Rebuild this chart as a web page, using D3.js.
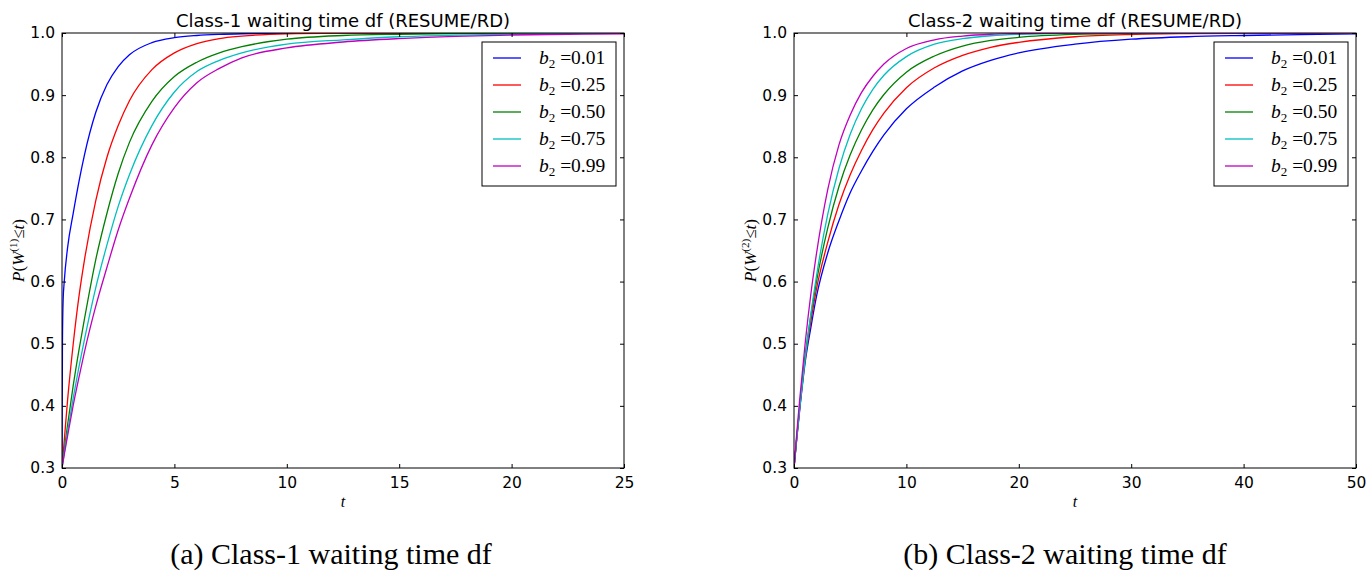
<!DOCTYPE html>
<html lang="en">
<head>
    <meta charset="UTF-8">
    <title>Waiting time df</title>
    <script src="https://d3js.org/d3.v7.min.js"></script>
    <style>
        body { margin: 0; background: #fff; }
        svg { display: block; }
    </style>
</head>
<body>
    <div id="chart"></div>
    <script>
        // legend labels and colours (matplotlib classic b, r, g, c, m)
        const b2Labels = ["0.01", "0.25", "0.50", "0.75", "0.99"];
        const colors = ["#0000ff", "#ff0000", "#008000", "#00bfbf", "#bf00bf"];

        // class-1 panel
        const tLeft = [0, 0.02, 0.05, 0.1, 0.25, 0.5, 0.75, 1, 1.5, 2, 2.5, 3, 4, 5, 6, 7, 8, 10, 12.5, 15, 17.5, 20, 22.5, 25];
        const left001 = [0.300, 0.50, 0.57, 0.60, 0.655, 0.71, 0.76, 0.804, 0.872, 0.917, 0.946, 0.965, 0.9845, 0.9925, 0.996, 0.9978, 0.9988, 0.9996, 0.9999, 1, 1, 1, 1, 1];
        const left025 = [0.300, 0.309, 0.322, 0.344, 0.41, 0.50, 0.575, 0.635, 0.73, 0.80, 0.851, 0.891, 0.941, 0.968, 0.983, 0.991, 0.995, 0.9986, 0.9997, 1, 1, 1, 1, 1];
        const left050 = [0.300, 0.306, 0.315, 0.329, 0.37, 0.433, 0.489, 0.54, 0.635, 0.71, 0.774, 0.824, 0.89, 0.93, 0.953, 0.968, 0.978, 0.99, 0.996, 0.998, 0.999, 0.9996, 1, 1];
        const left075 = [0.300, 0.305, 0.312, 0.324, 0.359, 0.413, 0.462, 0.507, 0.590, 0.659, 0.721, 0.772, 0.851, 0.905, 0.938, 0.956, 0.968, 0.982, 0.989, 0.994, 0.9965, 0.998, 0.9988, 0.9993];
        const left099 = [0.300, 0.3043, 0.3108, 0.3214, 0.352, 0.401, 0.445, 0.487, 0.560, 0.623, 0.683, 0.734, 0.82, 0.88, 0.92, 0.943, 0.960, 0.976, 0.9855, 0.991, 0.9947, 0.9968, 0.998, 0.9988];

        // class-2 panel
        const tRight = [0, 0.25, 0.5, 1, 1.5, 2, 3, 4, 5, 6, 7, 8, 10, 12.5, 15, 17.5, 20, 25, 30, 35, 40, 45, 50];
        const right001 = [0.300, 0.348, 0.392, 0.471, 0.526, 0.576, 0.646, 0.698, 0.743, 0.778, 0.809, 0.836, 0.878, 0.913, 0.939, 0.956, 0.968, 0.982, 0.99, 0.994, 0.996, 0.9975, 0.9985];
        const right025 = [0.300, 0.349, 0.395, 0.476, 0.536, 0.588, 0.663, 0.724, 0.772, 0.811, 0.844, 0.871, 0.912, 0.944, 0.964, 0.977, 0.985, 0.994, 0.9976, 0.999, 0.9996, 0.9998, 1];
        const right050 = [0.300, 0.351, 0.398, 0.482, 0.545, 0.600, 0.686, 0.753, 0.804, 0.844, 0.876, 0.901, 0.937, 0.963, 0.979, 0.988, 0.993, 0.9977, 0.9992, 0.9997, 1, 1, 1];
        const right075 = [0.300, 0.349, 0.395, 0.477, 0.548, 0.609, 0.708, 0.782, 0.837, 0.878, 0.909, 0.932, 0.962, 0.982, 0.991, 0.9956, 0.9979, 0.9995, 1, 1, 1, 1, 1];
        const right099 = [0.300, 0.357, 0.409, 0.502, 0.580, 0.645, 0.748, 0.820, 0.868, 0.904, 0.930, 0.950, 0.975, 0.989, 0.995, 0.998, 0.999, 0.9997, 1, 1, 1, 1, 1];

        const yTicks = [0.3, 0.4, 0.5, 0.6, 0.7, 0.8, 0.9, 1.0];
        const xTicksLeft = [0, 5, 10, 15, 20, 25];
        const xTicksRight = [0, 10, 20, 30, 40, 50];

        const width = 1368, height = 571;
        const svg = d3.select("#chart").append("svg")
            .attr("width", width)
            .attr("height", height);

        const sans = "DejaVu Sans, sans-serif";
        const serif = "Liberation Serif, serif";

        function drawPanel(opts) {
            const { x0, y0, w, h, t, series, xMax, xTicks, title, cls, caption, captionX, id } = opts;
            const g = svg.append("g").attr("transform", `translate(${x0},${y0})`);

            const x = d3.scaleLinear().domain([0, xMax]).range([0, w]);
            const y = d3.scaleLinear().domain([0.3, 1.0]).range([h, 0]);

            g.append("clipPath").attr("id", id)
                .append("rect").attr("width", w).attr("height", h);

            const line = d3.line()
                .x((d, i) => x(t[i]))
                .y(d => y(d))
                .curve(d3.curveMonotoneX);

            g.append("g").attr("clip-path", `url(#${id})`)
                .selectAll("path")
                .data(series)
                .join("path")
                .attr("d", d => line(d))
                .attr("fill", "none")
                .attr("stroke", (d, i) => colors[i])
                .attr("stroke-width", 1.3);

            // ticks point inward on all four sides
            const styleAxis = sel => {
                sel.select(".domain").remove();
                sel.selectAll("line").attr("stroke", "#000");
                sel.selectAll("text").attr("font-family", sans).attr("font-size", 15.5).attr("fill", "#000");
            };
            g.append("g").attr("transform", `translate(0,${h})`)
                .call(d3.axisBottom(x).tickValues(xTicks).tickFormat(d3.format("d")).tickSize(-4).tickPadding(9))
                .call(styleAxis);
            g.append("g")
                .call(d3.axisTop(x).tickValues(xTicks).tickSize(-4).tickFormat(""))
                .call(styleAxis);
            g.append("g")
                .call(d3.axisLeft(y).tickValues(yTicks).tickFormat(d3.format(".1f")).tickSize(-4).tickPadding(7))
                .call(styleAxis);
            g.append("g").attr("transform", `translate(${w},0)`)
                .call(d3.axisRight(y).tickValues(yTicks).tickSize(-4).tickFormat(""))
                .call(styleAxis);

            g.append("rect")
                .attr("width", w).attr("height", h)
                .attr("fill", "none").attr("stroke", "#000").attr("stroke-width", 1);

            g.append("text")
                .attr("x", w / 2).attr("y", -6)
                .attr("text-anchor", "middle")
                .attr("font-family", sans).attr("font-size", 18)
                .text(title);

            // x label
            g.append("text")
                .attr("x", w / 2).attr("y", h + 39)
                .attr("text-anchor", "middle")
                .attr("font-family", serif).attr("font-style", "italic").attr("font-size", 16)
                .text("t");

            // y label P(W^(k) <= t)
            const yl = g.append("text")
                .attr("transform", `translate(-38,${h / 2}) rotate(-90)`)
                .attr("text-anchor", "middle")
                .attr("font-family", serif).attr("font-size", 17);
            yl.append("tspan").attr("font-style", "italic").text("P");
            yl.append("tspan").text("(");
            yl.append("tspan").attr("font-style", "italic").text("W");
            yl.append("tspan").attr("font-size", 11).attr("dy", -7).text(`(${cls})`);
            yl.append("tspan").attr("dy", 7).text("≤");
            yl.append("tspan").attr("font-style", "italic").text("t");
            yl.append("tspan").text(")");

            // legend
            const lg = g.append("g").attr("transform", `translate(${w - 142},9)`);
            lg.append("rect")
                .attr("width", 134).attr("height", 144)
                .attr("fill", "#fff").attr("stroke", "#000").attr("stroke-width", 1);
            const rows = lg.selectAll("g.row")
                .data(b2Labels)
                .join("g")
                .attr("class", "row")
                .attr("transform", (d, i) => `translate(0,${16 + i * 27})`);
            rows.append("line")
                .attr("x1", 11).attr("x2", 39)
                .attr("stroke", (d, i) => colors[i]).attr("stroke-width", 1.3);
            const lt = rows.append("text")
                .attr("x", 57).attr("y", 6)
                .attr("font-family", serif).attr("font-size", 19.5);
            lt.append("tspan").attr("font-style", "italic").text("b");
            lt.append("tspan").attr("font-size", 13).attr("dy", 4).text("2");
            lt.append("tspan").attr("dy", -4).text(d => " =" + d);

            svg.append("text")
                .attr("x", captionX).attr("y", 564)
                .attr("text-anchor", "middle")
                .attr("font-family", serif).attr("font-size", 30)
                .text(caption);
        }

        drawPanel({
            id: "clipL", x0: 62, y0: 33, w: 562, h: 435,
            t: tLeft, series: [left001, left025, left050, left075, left099],
            xMax: 25, xTicks: xTicksLeft, cls: 1,
            title: "Class-1 waiting time df (RESUME/RD)",
            caption: "(a) Class-1 waiting time df", captionX: 331
        });
        drawPanel({
            id: "clipR", x0: 794, y0: 33, w: 562, h: 435,
            t: tRight, series: [right001, right025, right050, right075, right099],
            xMax: 50, xTicks: xTicksRight, cls: 2,
            title: "Class-2 waiting time df (RESUME/RD)",
            caption: "(b) Class-2 waiting time df", captionX: 1065
        });
    </script>
</body>
</html>
